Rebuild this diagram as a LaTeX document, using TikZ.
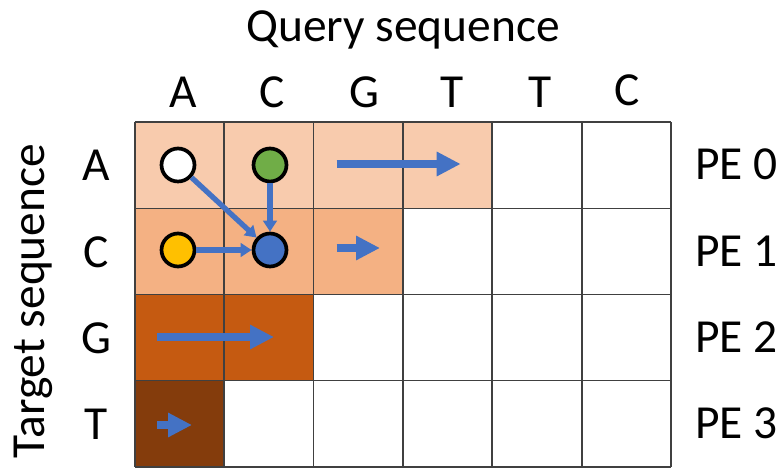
\documentclass[tikz,border=0pt]{standalone}
\usepackage{fontspec}
\setmainfont{Carlito}
\usetikzlibrary{arrows.meta}

\definecolor{cellA}{HTML}{F8CBAD}
\definecolor{cellC}{HTML}{F4B183}
\definecolor{cellG}{HTML}{C55A11}
\definecolor{cellT}{HTML}{843C0C}
\definecolor{flow}{HTML}{4472C4}
\definecolor{dotgreen}{HTML}{70AD47}
\definecolor{dotyellow}{HTML}{FFC000}

\tikzset{
  big/.style={font=\fontsize{27}{32}\selectfont},
  gridline/.style={draw=black!75, line width=1pt},
  dot/.style={shape=circle, draw=black, line width=2.1pt, minimum size=0.66cm, inner sep=0pt},
  wave/.style={draw=flow, line width=4pt, -{Triangle[length=0.48cm,width=0.46cm]}},
  dep/.style={draw=flow, line width=3pt, -{Triangle[length=0.22cm,width=0.27cm]}}
}

\begin{document}
\begin{tikzpicture}[x=0.02cm,y=-0.02cm]
                    \useasboundingbox (0,0) rectangle (783,469);

                    % shaded anti-diagonal wavefront
                    \fill[cellA] (134.7,122.3) rectangle (492.3,208.4);
                    \fill[cellC] (134.7,208.4) rectangle (403,294.5);
                    \fill[cellG] (134.7,294.5) rectangle (313.7,380.6);
                    \fill[cellT] (134.7,380.6) rectangle (224.3,466.7);

                    \foreach \i in {0,...,6}
                        \draw[gridline] (134.7+89.4*\i,122.3) -- (134.7+89.4*\i,466.7);
                    \foreach \j in {0,...,4}
                        \draw[gridline] (134.7,122.3+86.1*\j) -- (671.1,122.3+86.1*\j);

                    \node[big,anchor=base] (query) at (403,42) {Query sequence};
                    \node[big,anchor=base,rotate=90] (target) at (44,301) {Target sequence};

                    \node[big,anchor=base] (q0) at (183,108) {A};
                    \node[big,anchor=base] (q1) at (272,108) {C};
                    \node[big,anchor=base] (q2) at (364,108) {G};
                    \node[big,anchor=base] (q3) at (452,108) {T};
                    \node[big,anchor=base] (q4) at (540,108) {T};
                    \node[big,anchor=base] (q5) at (627,106) {C};

                    \node[big,anchor=base] (t0) at (96,181) {A};
                    \node[big,anchor=base] (t1) at (96,267) {C};
                    \node[big,anchor=base] (t2) at (96,353) {G};
                    \node[big,anchor=base] (t3) at (96,439) {T};

                    \node[big,anchor=base west] (pe0) at (689,180) {PE 0};
                    \node[big,anchor=base west] (pe1) at (689,266) {PE 1};
                    \node[big,anchor=base west] (pe2) at (689,352) {PE 2};
                    \node[big,anchor=base west] (pe3) at (689,438) {PE 3};

                    % cell dependencies
                    \node[dot,fill=white] (diag) at (178,165) {};
                    \node[dot,fill=dotgreen] (up) at (270,165) {};
                    \node[dot,fill=dotyellow] (left) at (178,250) {};
                    \node[dot,fill=flow] (cur) at (270,250) {};

                    \draw[dep] (diag) -- (cur);
                    \draw[dep] (up) -- (cur);
                    \draw[dep] (left) -- (cur);

                    % progress of each PE
                    \coordinate (a0) at (336.7,164);
                    \coordinate (a1) at (460.7,164);
                    \coordinate (c0) at (336.7,248);
                    \coordinate (c1) at (380,248);
                    \coordinate (g0) at (157,337);
                    \coordinate (g1) at (274,337);
                    \coordinate (t0a) at (157,425);
                    \coordinate (t1a) at (192,425);

                    \draw[wave] (a0) -- (a1);
                    \draw[wave] (c0) -- (c1);
                    \draw[wave] (g0) -- (g1);
                    \draw[wave] (t0a) -- (t1a);
                \end{tikzpicture}
\end{document}
